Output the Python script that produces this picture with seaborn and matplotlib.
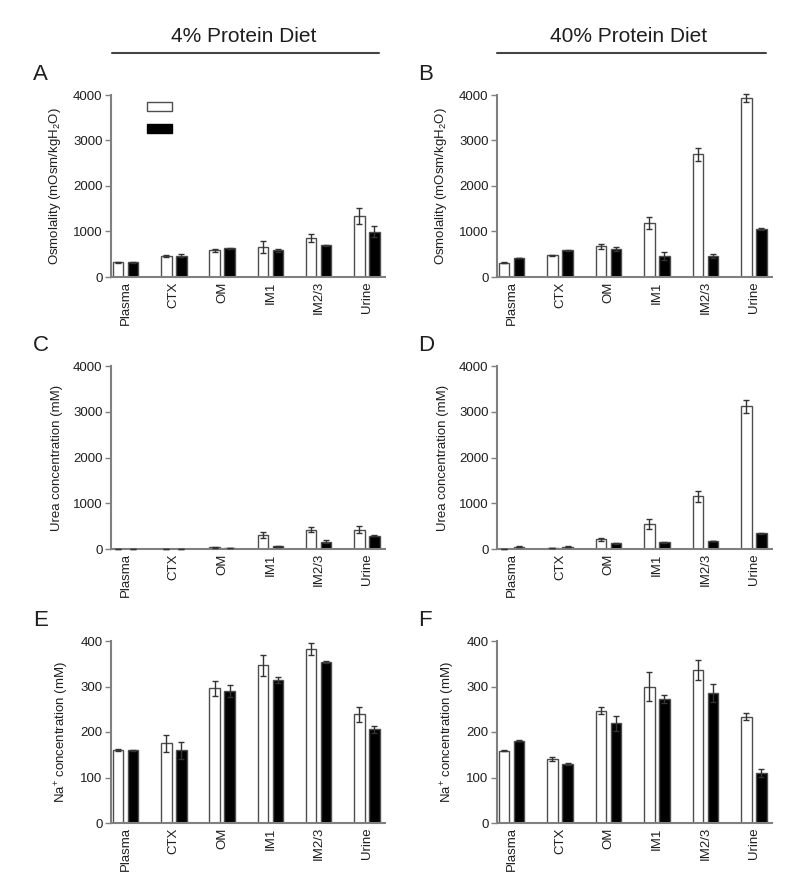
import matplotlib
matplotlib.use("Agg")
import matplotlib.pyplot as plt
from matplotlib.lines import Line2D
from matplotlib.patches import Patch
import seaborn as sns
import pandas as pd

# ---------------- data ----------------
categories = ["Plasma", "CTX", "OM", "IM1", "IM2/3", "Urine"]
groups = ["open", "filled"]

osm4_open = [325, 465, 585, 660, 860, 1335]
osm4_open_err = [10, 15, 35, 140, 85, 180]
osm4_filled = [325, 465, 635, 590, 695, 995]
osm4_filled_err = [8, 35, 12, 35, 15, 120]

osm40_open = [318, 480, 675, 1190, 2700, 3935]
osm40_open_err = [8, 8, 50, 130, 140, 80]
osm40_filled = [420, 585, 625, 455, 455, 1055]
osm40_filled_err = [8, 10, 45, 90, 40, 20]

urea4_open = [3, 5, 35, 300, 420, 425]
urea4_open_err = [2, 3, 8, 65, 50, 70]
urea4_filled = [3, 2, 15, 58, 160, 290]
urea4_filled_err = [1, 1, 4, 8, 35, 8]

urea40_open = [8, 22, 210, 555, 1150, 3120]
urea40_open_err = [2, 4, 40, 110, 115, 145]
urea40_filled = [50, 50, 125, 145, 175, 342]
urea40_filled_err = [5, 5, 10, 10, 10, 15]

na4_open = [160, 175, 296, 347, 382, 239]
na4_open_err = [2, 19, 17, 23, 13, 17]
na4_filled = [160, 160, 290, 314, 354, 206]
na4_filled_err = [1, 19, 13, 6, 2, 8]

na40_open = [159, 141, 247, 300, 337, 234]
na40_open_err = [1, 4, 8, 31, 22, 8]
na40_filled = [181, 130, 219, 273, 286, 110]
na40_filled_err = [1, 2, 16, 9, 20, 9]

diet_titles = ["4% Protein Diet", "40% Protein Diet"]
panel_letters = ["A", "B", "C", "D", "E", "F"]
ylabels = ["Osmolality (mOsm/kgH$_2$O)", "Urea concentration (mM)",
           "Na$^{+}$ concentration (mM)"]
yticks_big = [0, 1000, 2000, 3000, 4000]
yticks_na = [0, 100, 200, 300, 400]

# ---------------- style ----------------
sns.set_style("white")
plt.rcParams["font.family"] = ["Liberation Sans", "DejaVu Sans"]
plt.rcParams["mathtext.fontset"] = "custom"
plt.rcParams["mathtext.rm"] = "Liberation Sans"
plt.rcParams["mathtext.it"] = "Liberation Sans:italic"
plt.rcParams["mathtext.bf"] = "Liberation Sans:bold"
TXT = "#1e1e1e"
SPINE = "#808080"
EDGE = "#4d4d4d"
FS = 9.5

W, H = 800, 880
fig = plt.figure(figsize=(W / 100, H / 100), dpi=100)


def fx(px):
    return px / W


def fy(py):
    return 1 - py / H


col_left = [111, 497]
col_right = [385, 772]
row_top = [95, 366, 641]
row_bottom = [277, 549, 823]

panels = [
    (osm4_open, osm4_open_err, osm4_filled, osm4_filled_err),
    (osm40_open, osm40_open_err, osm40_filled, osm40_filled_err),
    (urea4_open, urea4_open_err, urea4_filled, urea4_filled_err),
    (urea40_open, urea40_open_err, urea40_filled, urea40_filled_err),
    (na4_open, na4_open_err, na4_filled, na4_filled_err),
    (na40_open, na40_open_err, na40_filled, na40_filled_err),
]

for idx, (o, oe, f, fe) in enumerate(panels):
    r, c = divmod(idx, 2)
    ax = fig.add_axes([fx(col_left[c]), fy(row_bottom[r]),
                       fx(col_right[c] - col_left[c]),
                       (row_bottom[r] - row_top[r]) / H])
    df = pd.DataFrame({
        "site": categories * 2,
        "group": [groups[0]] * len(categories) + [groups[1]] * len(categories),
        "value": list(o) + list(f),
    })
    sns.barplot(data=df, x="site", y="value", hue="group", order=categories,
                hue_order=groups, palette={"open": "white", "filled": "black"},
                width=0.62, gap=0.29, edgecolor=EDGE, linewidth=1.0,
                errorbar=None, legend=False, ax=ax)
    for cont, errs in zip(ax.containers, [oe, fe]):
        xs = [b.get_x() + b.get_width() / 2 for b in cont]
        ys = [b.get_height() for b in cont]
        ax.errorbar(xs, ys, yerr=errs, fmt="none", ecolor="#333333",
                    elinewidth=1.0, capsize=2.5, capthick=1.0, zorder=5,
                    clip_on=False)
    ax.set_xlim(-0.30, 5.375)
    if r < 2:
        ax.set_ylim(0, 4000)
        ax.set_yticks(yticks_big)
    else:
        ax.set_ylim(0, 400)
        ax.set_yticks(yticks_na)
    ax.set_xlabel("")
    ax.set_ylabel(ylabels[r], fontsize=FS, color=TXT, labelpad=7)
    for s in ["top", "right"]:
        ax.spines[s].set_visible(False)
    for s in ["left", "bottom"]:
        ax.spines[s].set_color(SPINE)
        ax.spines[s].set_linewidth(1.5)
    ax.tick_params(axis="y", length=4, width=1, color=SPINE, labelsize=FS,
                   labelcolor=TXT, pad=2, left=True)
    ax.tick_params(axis="x", length=0, labelsize=FS, labelcolor=TXT,
                   labelrotation=90, pad=3)
    ax.set_facecolor("white")
    # panel letter
    fig.text(fx(33 if c == 0 else 418), fy(row_top[r] - 15), panel_letters[idx],
             fontsize=16, color=TXT, ha="left", va="baseline")
    if idx == 0:
        handles = [Patch(facecolor="white", edgecolor=EDGE, linewidth=1.0),
                   Patch(facecolor="black", edgecolor="black", linewidth=1.0)]
        ax.legend(handles, ["", ""], loc="upper left",
                  bbox_to_anchor=(0.13, 0.962), frameon=False,
                  handlelength=1.9, handleheight=0.68, labelspacing=0.72,
                  borderpad=0, borderaxespad=0, handletextpad=0, fontsize=FS)

# diet headers
title_cx = [244, 629]
line_x = [(112, 379), (497, 766)]
for c in range(2):
    fig.text(fx(title_cx[c]), fy(37), diet_titles[c], fontsize=15, color=TXT,
             ha="center", va="center")
    fig.add_artist(Line2D([fx(line_x[c][0]), fx(line_x[c][1])], [fy(53), fy(53)],
                          color="#444444", linewidth=1.5))

fig.savefig("out.png", dpi=100, facecolor="white")
